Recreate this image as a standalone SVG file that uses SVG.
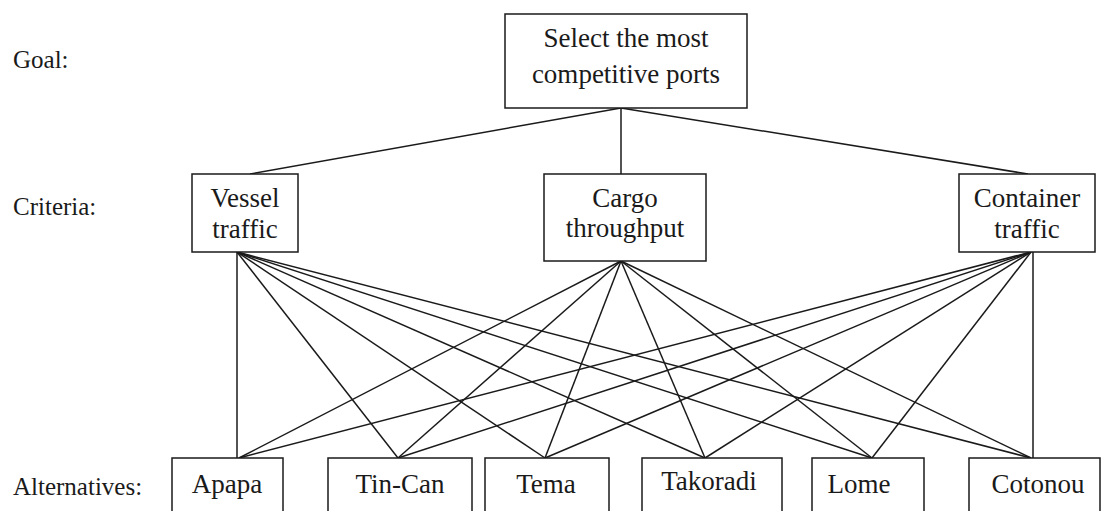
<svg xmlns="http://www.w3.org/2000/svg" width="1104" height="511" viewBox="0 0 1104 511">
<style>
  .box { fill: #ffffff; stroke: #1a1a1a; stroke-width: 1.5; }
  .lbl { font-size: 25px; fill: #1a1a1a; }
  .txt { font-size: 27px; fill: #1a1a1a; text-anchor: middle; }
  .conn line { stroke: #1a1a1a; stroke-width: 1.5; }
</style>
<rect width="1104" height="511" fill="#ffffff"/>
<g id="connectors" class="conn">
  <line x1="621" y1="108" x2="250" y2="174"/>
  <line x1="621" y1="108" x2="621" y2="174"/>
  <line x1="621" y1="108" x2="1028" y2="174"/>
  <line x1="237" y1="252" x2="237" y2="458"/>
  <line x1="237" y1="252" x2="398" y2="458"/>
  <line x1="237" y1="252" x2="545" y2="458"/>
  <line x1="237" y1="252" x2="705" y2="458"/>
  <line x1="237" y1="252" x2="872" y2="458"/>
  <line x1="237" y1="252" x2="1031" y2="458"/>
  <line x1="621" y1="261" x2="239" y2="458"/>
  <line x1="621" y1="261" x2="398" y2="458"/>
  <line x1="621" y1="261" x2="545" y2="458"/>
  <line x1="621" y1="261" x2="705" y2="458"/>
  <line x1="621" y1="261" x2="872" y2="458"/>
  <line x1="621" y1="261" x2="1031" y2="458"/>
  <line x1="1031" y1="252" x2="239" y2="458"/>
  <line x1="1031" y1="252" x2="398" y2="458"/>
  <line x1="1031" y1="252" x2="545" y2="458"/>
  <line x1="1031" y1="252" x2="705" y2="458"/>
  <line x1="1031" y1="252" x2="872" y2="458"/>
  <line x1="1033" y1="252" x2="1033" y2="458"/>
</g>
<g id="labels" font-family="'Liberation Serif', Tinos, 'Times New Roman', 'DejaVu Serif', serif">
  <text class="lbl" x="13" y="68">Goal:</text>
  <text class="lbl" x="13" y="215">Criteria:</text>
  <text class="lbl" x="13" y="495">Alternatives:</text>
</g>
<g id="nodes" font-family="'Liberation Serif', Tinos, 'Times New Roman', 'DejaVu Serif', serif">
<g id="goal">
  <rect class="box" x="505" y="14" width="242" height="94"/>
  <text class="txt" x="626" y="47">Select the most</text>
  <text class="txt" x="626" y="83">competitive ports</text>
</g>
<g id="vessel">
  <rect class="box" x="192" y="174" width="106" height="78"/>
  <text class="txt" x="245" y="207">Vessel</text>
  <text class="txt" x="245" y="238">traffic</text>
</g>
<g id="cargo">
  <rect class="box" x="544" y="174" width="162" height="87"/>
  <text class="txt" x="625" y="207">Cargo</text>
  <text class="txt" x="625" y="237">throughput</text>
</g>
<g id="container">
  <rect class="box" x="959" y="174" width="136" height="78"/>
  <text class="txt" x="1027" y="207">Container</text>
  <text class="txt" x="1027" y="238">traffic</text>
</g>
<g id="apapa">
  <rect class="box" x="172" y="458" width="111" height="60"/>
  <text class="txt" x="227" y="493">Apapa</text>
</g>
<g id="tincan">
  <rect class="box" x="328" y="458" width="144" height="60"/>
  <text class="txt" x="400" y="493">Tin-Can</text>
</g>
<g id="tema">
  <rect class="box" x="485" y="458" width="124" height="60"/>
  <text class="txt" x="546" y="493">Tema</text>
</g>
<g id="takoradi">
  <rect class="box" x="642" y="458" width="140" height="60"/>
  <text class="txt" x="709" y="490">Takoradi</text>
</g>
<g id="lome">
  <rect class="box" x="812" y="458" width="112" height="60"/>
  <text class="txt" x="859" y="493">Lome</text>
</g>
<g id="cotonou">
  <rect class="box" x="969" y="458" width="131" height="60"/>
  <text class="txt" x="1038" y="493">Cotonou</text>
</g>
</g>
</svg>
